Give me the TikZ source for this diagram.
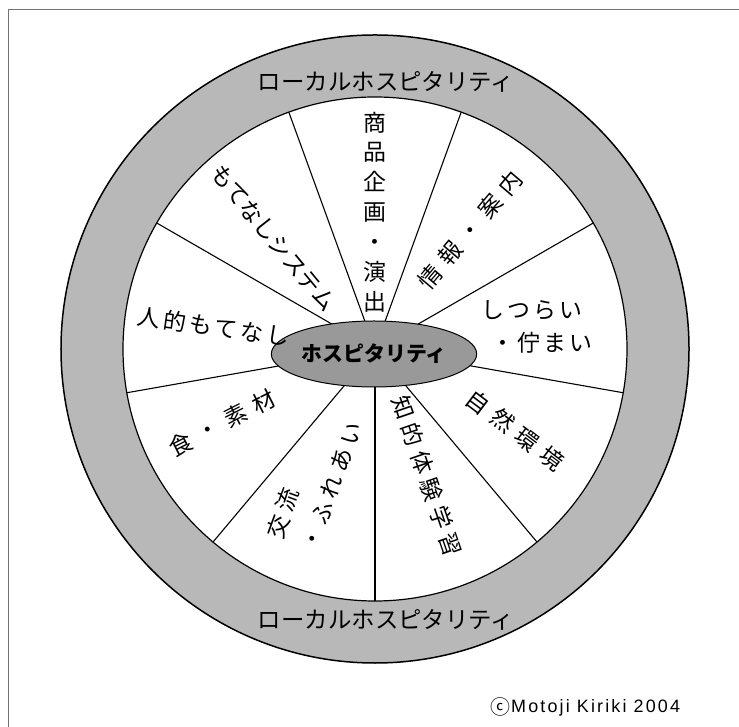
\documentclass[tikz,border=0pt]{standalone}
\usepackage{fontspec}
\setmainfont{Liberation Sans}
\newfontfamily\jpfont{Noto Sans CJK JP}
\newfontfamily\cpyfont{Liberation Sans}[LetterSpace=12]
\usetikzlibrary{shapes.geometric}
\begin{document}
\begin{tikzpicture}[x=1bp,y=1bp,
  lab/.style={font=\jpfont\fontsize{23}{30}\selectfont, inner sep=0pt},
  ringlab/.style={font=\jpfont\fontsize{23.5}{28}\selectfont, inner sep=0pt},
  spoke/.style={draw=black, line width=1.1bp}]
\useasboundingbox (0,0) rectangle (739,727);
\draw[black!55, line width=1bp] (8,0) -- (8,717) -- (739,717);
\coordinate (C) at (375,378);
\node[circle, draw, line width=1.5bp, fill=black!28, minimum size=628bp, inner sep=0pt, outer sep=0pt] (outer) at (C) {};
\node[circle, draw, line width=1.2bp, fill=white, minimum size=504bp, inner sep=0pt, outer sep=0pt] (inner) at (C) {};
\foreach \a in {-90,-50,...,230} \draw[spoke] (C) -- (inner.\a);
\node[ellipse, draw, line width=1bp, fill=black!40, minimum width=160bp, minimum height=66bp, inner sep=0pt,
  font=\jpfont\bfseries\fontsize{21}{24}\selectfont] (core) at (374,373) {ホスピタリティ};
\node[ringlab] (ringtop) at (386,645) {ローカルホスピタリティ};
\node[ringlab] (ringbot) at (386,107) {ローカルホスピタリティ};
\node[lab, align=center] (shohin) at (375,515) {商\\品\\企\\画\\・\\演\\出};
\node[lab, rotate=49.6] (joho) at (470,497) {情\kern8bp 報\kern8bp ・\kern8bp 案\kern8bp 内};
\node[lab] (shitsu1) at (532,417) {し\kern3bp つ\kern3bp ら\kern3bp い};
\node[lab] (shitsu2) at (542,384) {・\kern3bp 佇\kern3bp ま\kern3bp い};
\node[lab, rotate=-37] (shizen) at (515,297) {自\kern8bp 然\kern8bp 環\kern8bp 境};
\node[lab, rotate=-71] (chiteki) at (427,251) {知\kern6bp 的\kern6bp 体\kern6bp 験\kern6bp 学\kern6bp 習};
\node[lab, rotate=70, align=left, font=\jpfont\fontsize{23}{37}\selectfont] (koryu) at (314,247)
  {交\kern5bp 流\\・\kern5bp ふ\kern5bp れ\kern5bp あ\kern5bp い};
\node[lab, rotate=27] (shoku) at (222,304) {食\kern8bp ・\kern8bp 素\kern8bp 材};
\node[lab, rotate=-8] (jinteki) at (213.5,400.5) {人\kern3bp 的\kern3bp も\kern3bp て\kern3bp な\kern3bp し};
\node[lab, rotate=-50.5] (system) at (273.5,489) {もてなしシステム};
\node[inner sep=0pt, font=\jpfont\fontsize{20}{22}\selectfont] (copyc) at (500,20) {ⓒ};
\node[anchor=base west, inner sep=0pt, font=\cpyfont\fontsize{18}{22}\selectfont] (copytext) at (511,14) {Motoji Kiriki 2004};
\end{tikzpicture}
\end{document}
